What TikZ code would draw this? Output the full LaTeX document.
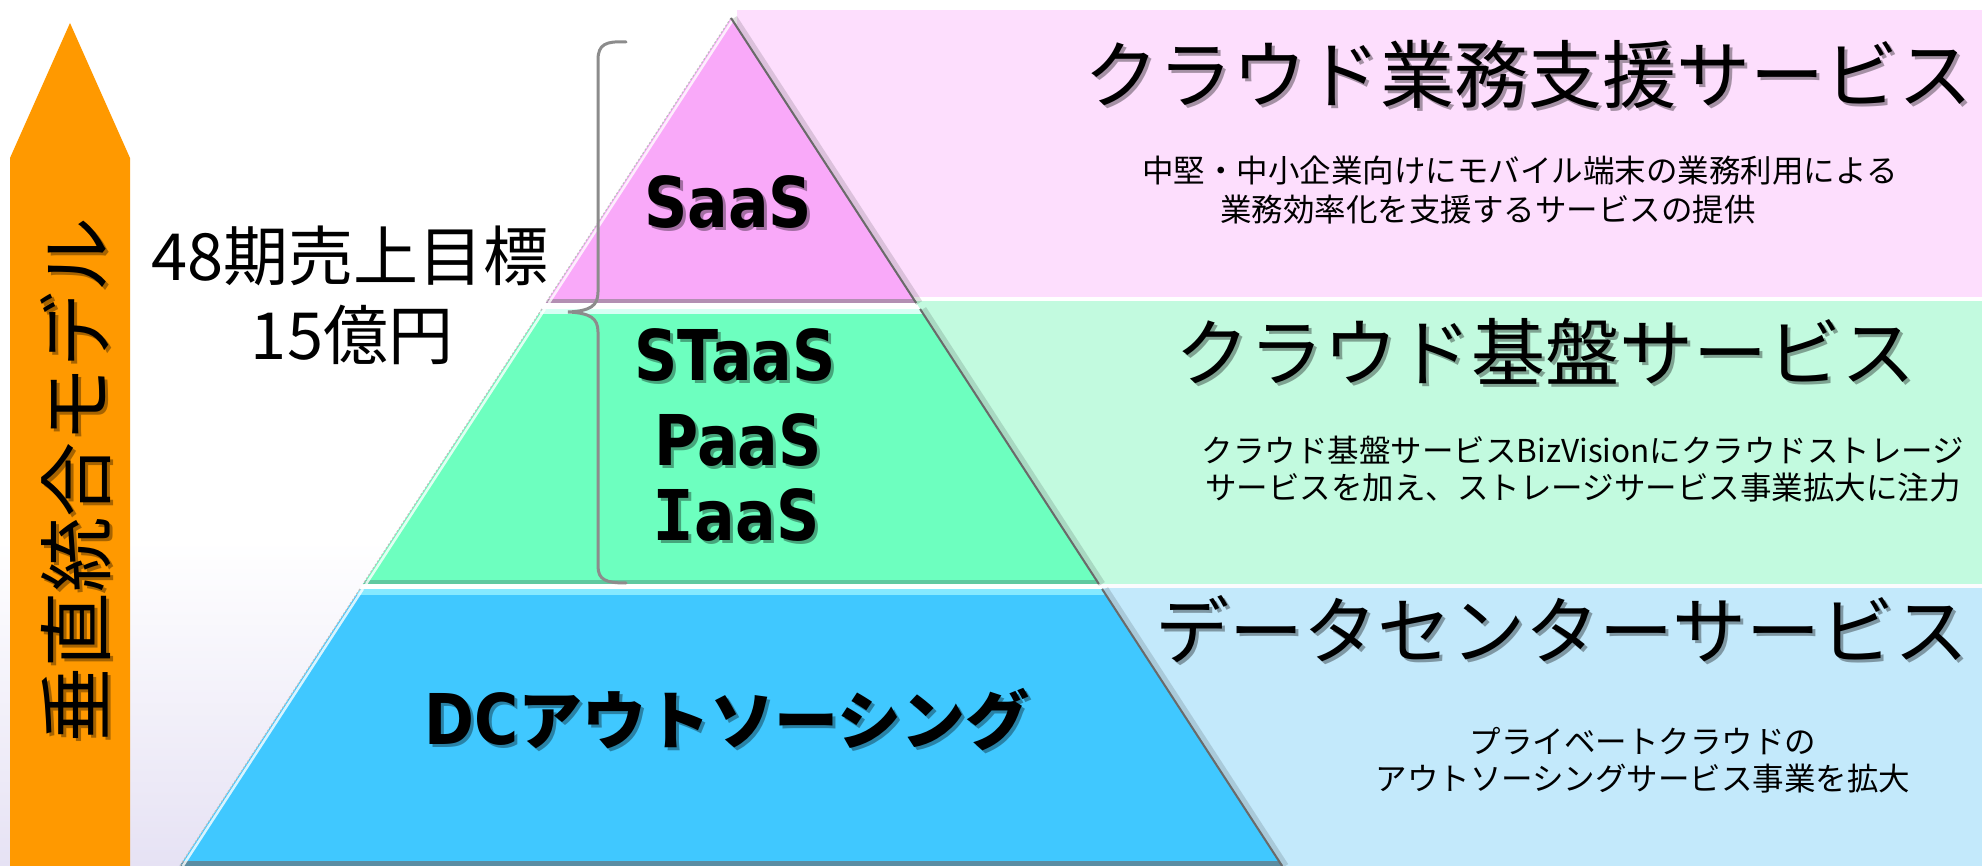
\documentclass[tikz,border=0pt]{standalone}
\usepackage{fontspec}
\newfontfamily\jp{Noto Sans CJK JP}
\newfontfamily\lat{DejaVu Sans}[FakeStretch=0.86]
\newfontfamily\latmono{DejaVu Sans Mono}
\definecolor{arroworange}{HTML}{FF9900}
\definecolor{pinkband}{HTML}{F9A9F9}
\definecolor{greenband}{HTML}{6DFFBF}
\definecolor{blueband}{HTML}{40C8FF}
\definecolor{pinkpanel}{HTML}{FDDEFD}
\definecolor{greenpanel}{HTML}{C2FADF}
\definecolor{bluepanel}{HTML}{C3E9FB}
\definecolor{bglav}{HTML}{E6E2F4}
\definecolor{bracegray}{HTML}{8C8C8C}
\definecolor{edgegray}{HTML}{6A6A6A}
\definecolor{pinkdark}{HTML}{B38FB3}
\definecolor{greendark}{HTML}{5FC9A0}
\definecolor{bluedark}{HTML}{5A8CA2}
\definecolor{greenhi}{HTML}{D8FFF4}
\definecolor{bluehi}{HTML}{86E9FF}
\tikzset{
  txt/.style={inner sep=0pt, outer sep=0pt, anchor=center, text=black},
  shd/.style={inner sep=0pt, outer sep=0pt, anchor=center, text=black, opacity=0.35},
  tierlbl/.style={txt, font=\lat\bfseries\fontsize{70}{80}\selectfont},
  tiershd/.style={shd, font=\lat\bfseries\fontsize{70}{80}\selectfont},
  title/.style={txt, font=\jp\fontsize{74}{80}\selectfont},
  titleshd/.style={shd, font=\jp\fontsize{74}{80}\selectfont},
  sub/.style={txt, font=\jp\fontsize{31.5}{36}\selectfont},
  side/.style={txt, font=\jp\fontsize{65}{70}\selectfont},
  leftedge/.style={gray!50, line width=1.2, dash pattern=on 2pt off 2pt},
  lefthi/.style={white, line width=2.5, opacity=0.8},
  rightshadow/.style={black, opacity=0.13, line width=7},
  rightedge/.style={edgegray, line width=2},
}
\newcommand{\serifI}{{\latmono\bfseries I}}
\begin{document}
\begin{tikzpicture}[x=1pt,y=-1pt]
\useasboundingbox (0,0) rectangle (1982,866);
\fill[white] (0,0) rectangle (1982,866);
\shade[top color=white, bottom color=bglav] (0,540) rectangle (1982,866);

% right panels
\fill[pinkpanel] (737,10) rectangle (1982,297);
\fill[greenpanel] (737,301) rectangle (1982,584);
\fill[bluepanel] (737,588) rectangle (1982,866);

% pyramid coordinates
\coordinate (apex) at (731,18);
\coordinate (sL) at (545.8,303);  \coordinate (sR) at (916.2,303);
\coordinate (gTL) at (541.9,309); \coordinate (gTR) at (920.1,309);
\coordinate (gBL) at (363.1,584); \coordinate (gBR) at (1098.9,584);
\coordinate (bTL) at (359.9,589); \coordinate (bTR) at (1102.1,589);
\coordinate (bBL) at (179.8,866); \coordinate (bBR) at (1282.2,866);

% white gaps between tiers
\fill[white] (sL) -- (sR) -- (gTR) -- (gTL) -- cycle;
\fill[white] (gBL) -- (gBR) -- (bTR) -- (bTL) -- cycle;

% tiers with bevel strips
\begin{scope}
  \clip (apex) -- (sR) -- (sL) -- cycle;
  \fill[pinkband] (0,0) rectangle (1982,303);
  \fill[pinkdark] (0,299) rectangle (1982,303);
\end{scope}
\begin{scope}
  \clip (gTL) -- (gTR) -- (gBR) -- (gBL) -- cycle;
  \fill[greenband] (0,309) rectangle (1982,584);
  \fill[greenhi] (0,309) rectangle (1982,314);
  \fill[greendark] (0,580) rectangle (1982,584);
\end{scope}
\begin{scope}
  \clip (bTL) -- (bTR) -- (bBR) -- (bBL) -- cycle;
  \fill[blueband] (0,589) rectangle (1982,866);
  \fill[bluehi] (0,589) rectangle (1982,595);
  \fill[bluedark] (0,861) rectangle (1982,866);
\end{scope}

% left edges
\draw[lefthi] ([xshift=3pt]apex) -- ([xshift=3pt]sL);
\draw[lefthi] ([xshift=3pt]gTL) -- ([xshift=3pt]gBL);
\draw[lefthi] ([xshift=3pt]bTL) -- ([xshift=3pt]bBL);
\draw[leftedge] (apex) -- (sL);
\draw[leftedge] (gTL) -- (gBL);
\draw[leftedge] (bTL) -- (bBL);
% right edges
\draw[rightshadow] ([xshift=3pt]apex) -- ([xshift=3pt]sR);
\draw[rightshadow] ([xshift=3pt]gTR) -- ([xshift=3pt]gBR);
\draw[rightshadow] ([xshift=3pt]bTR) -- ([xshift=3pt]bBR);
\draw[rightedge] (apex) -- (sR);
\draw[rightedge] (gTR) -- (gBR);
\draw[rightedge] (bTR) -- (bBR);

% orange arrow
\fill[arroworange] (10,866) -- (10,158) -- (70,23) -- (130,158) -- (130,866) -- cycle;
\node[shd, rotate=90, font=\jp\fontsize{75}{80}\selectfont] (arrowshd) at (79,483) {垂直統合モデル};
\node[txt, rotate=90, font=\jp\fontsize{75}{80}\selectfont] (arrowtxt) at (76,480) {垂直統合モデル};

% brace
\draw[bracegray, line width=3, line cap=round]
  (626,42) .. controls (606,41) and (598,44) .. (598,60) -- (598,292)
  .. controls (598,306) and (590,311) .. (568,312)
  .. controls (590,313) and (598,318) .. (598,332) -- (598,566)
  .. controls (598,580) and (606,583) .. (626,583);

% side text
\node[side] (target1) at (350,256) {48期売上目標};
\node[side] (target2) at (352,335) {15億円};

% tier labels
\node[tiershd] (saasS) at (731,205) {SaaS};
\node[tierlbl] (saas) at (728,202) {SaaS};
\node[tiershd] (staasS) at (738,358) {STaaS};
\node[tierlbl] (staas) at (735,355) {STaaS};
\node[tiershd] (paasS) at (741,443) {PaaS};
\node[tierlbl] (paas) at (738,440) {PaaS};
\node[tiershd] (iaasS) at (739,518) {\serifI aaS};
\node[tierlbl] (iaas) at (736,515) {\serifI aaS};
\node[tiershd] (dcS) at (730,723) {DC{\jp\bfseries\fontsize{64}{70}\selectfont アウトソーシング}};
\node[tierlbl] (dc) at (727,720) {DC{\jp\bfseries\fontsize{64}{70}\selectfont アウトソーシング}};

% titles
\node[titleshd] (t1s) at (1531,77) {クラウド業務支援サービス};
\node[title] (t1) at (1528,74) {クラウド業務支援サービス};
\node[titleshd] (t2s) at (1548,354) {クラウド基盤サービス};
\node[title] (t2) at (1545,351) {クラウド基盤サービス};
\node[titleshd] (t3s) at (1565,632) {データセンターサービス};
\node[title] (t3) at (1562,629) {データセンターサービス};

% descriptions
\node[sub] (d1a) at (1520,171) {中堅・中小企業向けにモバイル端末の業務利用による};
\node[sub] (d1b) at (1488,210) {業務効率化を支援するサービスの提供};
\node[sub] (d2a) at (1583,450) {クラウド基盤サービスBizVisionにクラウドストレージ};
\node[sub] (d2b) at (1583,488) {サービスを加え、ストレージサービス事業拡大に注力};
\node[sub] (d3a) at (1643,741) {プライベートクラウドの};
\node[sub] (d3b) at (1643,779) {アウトソーシングサービス事業を拡大};
\end{tikzpicture}
\end{document}
